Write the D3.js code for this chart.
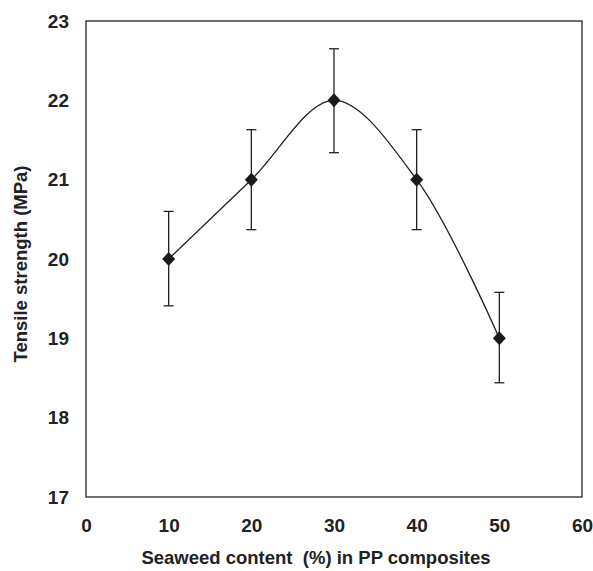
<!DOCTYPE html>
<html>
<head>
<meta charset="utf-8">
<script src="https://cdn.jsdelivr.net/npm/d3@7"></script>
<style>
  body { margin: 0; background: #fff; overflow: hidden; }
  svg { display: block; }
  .tick-label { font-family: 'Liberation Sans', Arial, sans-serif; font-weight: bold; font-size: 19px; fill: #222; }
  .axis-title { font-family: 'Liberation Sans', Arial, sans-serif; font-weight: bold; font-size: 18.5px; fill: #222; }
</style>
</head>
<body>
<div id="chart"></div>
<script>
// Data
const seaweedContent = [10, 20, 30, 40, 50]
const tensileStrength = [20, 21, 22, 21, 19]
const errorPlus = [0.6, 0.63, 0.65, 0.63, 0.58]
const errorMinus = [0.59, 0.63, 0.66, 0.63, 0.56]
const xTicks = [0, 10, 20, 30, 40, 50, 60]
const yTicks = [17, 18, 19, 20, 21, 22, 23]

const width = 593
const height = 571
const margin = { top: 21, right: 11, bottom: 74, left: 86 }
const innerWidth = width - margin.left - margin.right
const innerHeight = height - margin.top - margin.bottom

const data = seaweedContent.map((x, i) => ({
  x, y: tensileStrength[i], hi: tensileStrength[i] + errorPlus[i], lo: tensileStrength[i] - errorMinus[i]
}))

const svg = d3.select('#chart')
  .append('svg')
  .attr('width', width)
  .attr('height', height)

const g = svg.append('g')
  .attr('transform', `translate(${margin.left}, ${margin.top})`)

const xScale = d3.scaleLinear().domain([0, 60]).range([0, innerWidth])
const yScale = d3.scaleLinear().domain([17, 23]).range([innerHeight, 0])

// Frame
g.append('rect')
  .attr('width', innerWidth)
  .attr('height', innerHeight)
  .attr('fill', 'none')
  .attr('stroke', '#222')
  .attr('stroke-width', 1.3)

// Bottom axis - labels only
g.append('g')
  .attr('transform', `translate(0, ${innerHeight})`)
  .call(d3.axisBottom(xScale).tickValues(xTicks).tickFormat(d3.format('d')).tickSize(0).tickPadding(22))
  .call(ax => ax.select('.domain').remove())
  .selectAll('text')
  .attr('class', 'tick-label')

// Left axis - labels only
g.append('g')
  .call(d3.axisLeft(yScale).tickValues(yTicks).tickFormat(d3.format('d')).tickSize(0).tickPadding(17))
  .call(ax => ax.select('.domain').remove())
  .selectAll('text')
  .attr('class', 'tick-label')

// Smoothed line
const line = d3.line()
  .x(d => xScale(d.x))
  .y(d => yScale(d.y))
  .curve(d3.curveCatmullRom.alpha(0.5))

g.append('path')
  .datum(data)
  .attr('fill', 'none')
  .attr('stroke', '#222')
  .attr('stroke-width', 1.3)
  .attr('d', line)

// Error bars
const capHalf = 5
const bars = g.selectAll('.err').data(data).enter().append('g').attr('class', 'err')
  .attr('stroke', '#222')
  .attr('stroke-width', 1.3)
bars.append('line')
  .attr('x1', d => xScale(d.x)).attr('x2', d => xScale(d.x))
  .attr('y1', d => yScale(d.hi)).attr('y2', d => yScale(d.lo))
bars.append('line')
  .attr('x1', d => xScale(d.x) - capHalf).attr('x2', d => xScale(d.x) + capHalf)
  .attr('y1', d => yScale(d.hi)).attr('y2', d => yScale(d.hi))
bars.append('line')
  .attr('x1', d => xScale(d.x) - capHalf).attr('x2', d => xScale(d.x) + capHalf)
  .attr('y1', d => yScale(d.lo)).attr('y2', d => yScale(d.lo))

// Diamond markers
g.selectAll('.marker').data(data).enter().append('path')
  .attr('class', 'marker')
  .attr('transform', d => `translate(${xScale(d.x)},${yScale(d.y)})`)
  .attr('d', 'M0,-7L6.5,0L0,7L-6.5,0Z')
  .attr('fill', '#1a1a1a')

// Axis titles
svg.append('text')
  .attr('class', 'axis-title')
  .attr('x', 316)
  .attr('y', 564)
  .attr('text-anchor', 'middle')
  .style('white-space', 'pre')
  .text('Seaweed content  (%) in PP composites')

svg.append('text')
  .attr('class', 'axis-title')
  .attr('transform', `translate(27, ${margin.top + innerHeight / 2 + 5}) rotate(-90)`)
  .attr('text-anchor', 'middle')
  .text('Tensile strength (MPa)')
</script>
</body>
</html>
